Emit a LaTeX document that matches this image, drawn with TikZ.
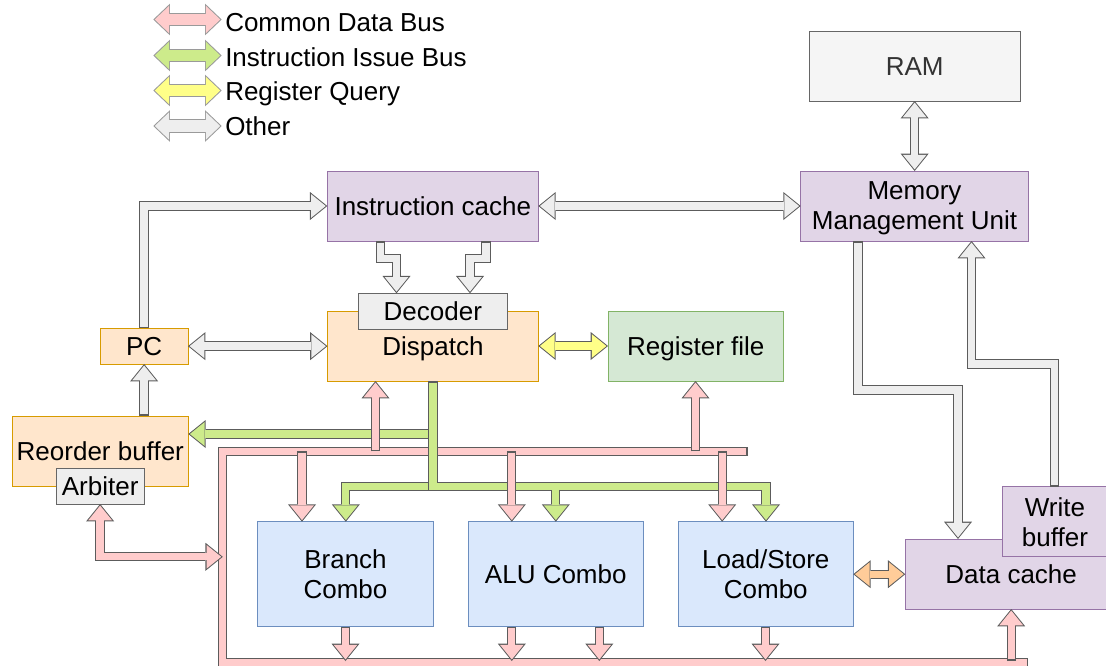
\documentclass[tikz,border=0pt]{standalone}
\usepackage{fontspec}
\setmainfont{Liberation Sans}
\usetikzlibrary{arrows.meta}
\definecolor{cdb}{HTML}{FFCCCC}
\definecolor{iib}{HTML}{CDEB8B}
\definecolor{rq}{HTML}{FFFF88}
\definecolor{oth}{HTML}{EEEEEE}
\definecolor{org}{HTML}{FFCC99}
\definecolor{edge}{HTML}{5C5C5C}
\definecolor{ledge}{HTML}{9A9A9A}
\definecolor{purF}{HTML}{E1D5E7}\definecolor{purD}{HTML}{9673A6}
\definecolor{orF}{HTML}{FFE6CC}\definecolor{orD}{HTML}{D79B00}
\definecolor{grF}{HTML}{D5E8D4}\definecolor{grD}{HTML}{82B366}
\definecolor{blF}{HTML}{DAE8FC}\definecolor{blD}{HTML}{6C8EBF}
\definecolor{gyF}{HTML}{F5F5F5}\definecolor{gyD}{HTML}{666666}
\definecolor{gyT}{HTML}{333333}
\definecolor{dcF}{HTML}{EEEEEE}
\newcommand\nfont{\fontsize{19.5pt}{22.5pt}\selectfont}
\tikzset{
  OT/.tip={Triangle[length=13pt,width=21pt,line width=0pt]},
  IT/.tip={Triangle[length=11pt,width=17.8pt,line width=0pt]},
  OTL/.tip={Triangle[length=12.5pt,width=23.8pt,line width=0pt]},
  ITL/.tip={Triangle[length=10.7pt,width=20.3pt,line width=0pt]},
  fatO/.style={line width=7pt, draw=edge, >=OT},
  fatI/.style={line width=5.5pt, >=IT, shorten >=1.19pt, shorten <=1.19pt},
  legO/.style={line width=10pt, draw=ledge, >=OTL},
  legI/.style={line width=8.5pt, >=ITL, shorten >=1.09pt, shorten <=1.09pt},
  box/.style={draw, line width=0.75pt, inner sep=0pt, outer sep=0pt, align=center, font=\nfont},
  one/.style={text height=13.96pt, text depth=0pt},
}
\newcommand\fatarr[4][]{\draw[fatO,#3]#4;\draw[fatI,draw=#2,#3,#1]#4;}
\newcommand\bx[7]{\node[box,#2,minimum width={(#5-#3)*0.75pt},minimum height={(#6-#4)*0.75pt}] (#1) at ({(#3+#5)/2},{(#4+#6)/2}) {#7};}
\begin{document}
\begin{tikzpicture}[x=0.75pt,y=-0.75pt]
\useasboundingbox (0,0) rectangle (1106,665);
\clip (0,0) rectangle (1106,665);
% legend
\foreach \c/\t/\ya/\yb [count=\i] in {cdb/Common Data Bus/19.5/31.5, iib/Instruction Issue Bus/55.5/66.5, rq/Register Query/90.5/100.5, oth/Other/126/135} {
  \coordinate (la\i) at (153.3,\ya);
  \coordinate (lb\i) at (221.7,\ya);
  \draw[legO,<->] (la\i) -- (lb\i);
  \draw[legI,draw=\c,<->] (la\i) -- (lb\i);
  \node[anchor=base west, inner sep=0pt, font=\nfont] (lt\i) at (225,\yb) {\t};
}
% nodes
\bx{ram}{fill=gyF,draw=gyD,text=gyT,one}{809.3}{31}{1020}{101}{RAM}
\bx{mmu}{fill=purF,draw=purD}{800.7}{171}{1028.3}{241}{Memory\\\smash{Management Unit}}
\bx{ic}{fill=purF,draw=purD,one}{327.3}{171}{538.3}{241}{Instruction cache}
\bx{disp}{fill=orF,draw=orD,one}{327.5}{311}{538.3}{381}{Dispatch}
\bx{dec}{fill=dcF,draw=gyD,one}{358.3}{293.3}{507.3}{329}{Decoder}
\bx{pc}{fill=orF,draw=orD,one}{100.3}{328.3}{188}{364}{PC}
\bx{rf}{fill=grF,draw=grD,one}{608}{311}{783.7}{381}{Register file}
\bx{rob}{fill=orF,draw=orD,one}{12.3}{416}{188.3}{486.7}{Reorder buffer}
\bx{arb}{fill=dcF,draw=gyD,one}{56}{468.7}{144.3}{504}{Arbiter}
\bx{br}{fill=blF,draw=blD}{257.7}{521.7}{433.3}{626.7}{Branch\\Combo}
\bx{alu}{fill=blF,draw=blD,one}{468.3}{521.7}{643.3}{626.7}{ALU Combo}
\bx{ls}{fill=blF,draw=blD}{678.3}{521.7}{853.3}{626.7}{Load/Store\\Combo}
\bx{dc}{fill=purF,draw=purD,one}{905.3}{539}{1117}{609}{Data cache}
\bx{wb}{fill=purF,draw=purD}{1002.3}{486.7}{1107.5}{556.7}{Write\\buffer}
% other (gray) connectors
\fatarr{oth}{->}{(pc.north) |- (ic.west)}
\fatarr{oth}{->}{(pc.south |- rob.north) -- (pc.south)}
\fatarr{oth}{<->}{(pc.east) -- (pc.east -| disp.west)}
\fatarr{oth}{<->}{(ic.east) -- (mmu.west)}
\fatarr{oth}{<->}{(ram.south) -- (ram.south |- mmu.north)}
\fatarr{oth}{->}{(380.5,0 |- ic.south) |- (396.5,258.7) -- (396.5,0 |- dec.north)}
\fatarr{oth}{->}{(486,0 |- ic.south) |- (470,258.7) -- (470,0 |- dec.north)}
\fatarr{oth}{->}{(858,0 |- mmu.south) |- (958,390) -- (958,0 |- dc.north)}
\fatarr{oth}{->}{(1054.5,0 |- wb.north) |- (971.5,364) -- (971.5,0 |- mmu.south)}
% register query and load/store link
\fatarr{rq}{<->}{(disp.east) -- (rf.west)}
\fatarr{org}{<->}{(ls.east) -- (ls.east -| dc.west)}
% common data bus loop
\coordinate (bTR) at (748,451.3);
\coordinate (bTL) at (222.8,451.3);
\coordinate (bBL) at (222.8,662.5);
\coordinate (bBR) at (1028.3,662.5);
\coordinate (bIn) at (0,661);
\fatarr{cdb}{-}{(bTR) -- (bTL) -- (bBL) -- (bBR)}
% instruction issue bus
\coordinate (gj) at (433,486.3);
\fatarr{iib}{->}{(433,434) -- (rob.east |- 0,434)}
\fatarr{iib}{->}{(gj) -| (br.north -| 345.8,0)}
\fatarr{iib}{->}{(433,0 |- disp.south) |- (766,486.3) -- (766,0 |- ls.north)}
\fatarr[shorten <=0pt]{iib}{->}{(555.8,489.8) -- (555.8,0 |- alu.north)}
% common data bus branches
\fatarr{cdb}{->}{(375.5,0 |- bTL) -- (375.5,0 |- disp.south)}
\fatarr{cdb}{->}{(695.5,0 |- bTL) -- (695.5,0 |- rf.south)}
\fatarr{cdb}{->}{(302,0 |- bTL) -- (302,0 |- br.north)}
\fatarr{cdb}{->}{(511.8,0 |- bTL) -- (511.8,0 |- alu.north)}
\fatarr{cdb}{->}{(722.2,0 |- bTL) -- (722.2,0 |- ls.north)}
\fatarr{cdb}{->}{(345.5,0 |- br.south) -- (345.5,0 |- bIn)}
\fatarr{cdb}{->}{(511.8,0 |- alu.south) -- (511.8,0 |- bIn)}
\fatarr{cdb}{->}{(599.3,0 |- alu.south) -- (599.3,0 |- bIn)}
\fatarr{cdb}{->}{(765.5,0 |- ls.south) -- (765.5,0 |- bIn)}
\fatarr{cdb}{->}{(1011.2,0 |- bIn) -- (1011.2,0 |- dc.south)}
\fatarr{cdb}{<->}{(arb.south) |- (bTL |- 0,556.8)}
\end{tikzpicture}
\end{document}
